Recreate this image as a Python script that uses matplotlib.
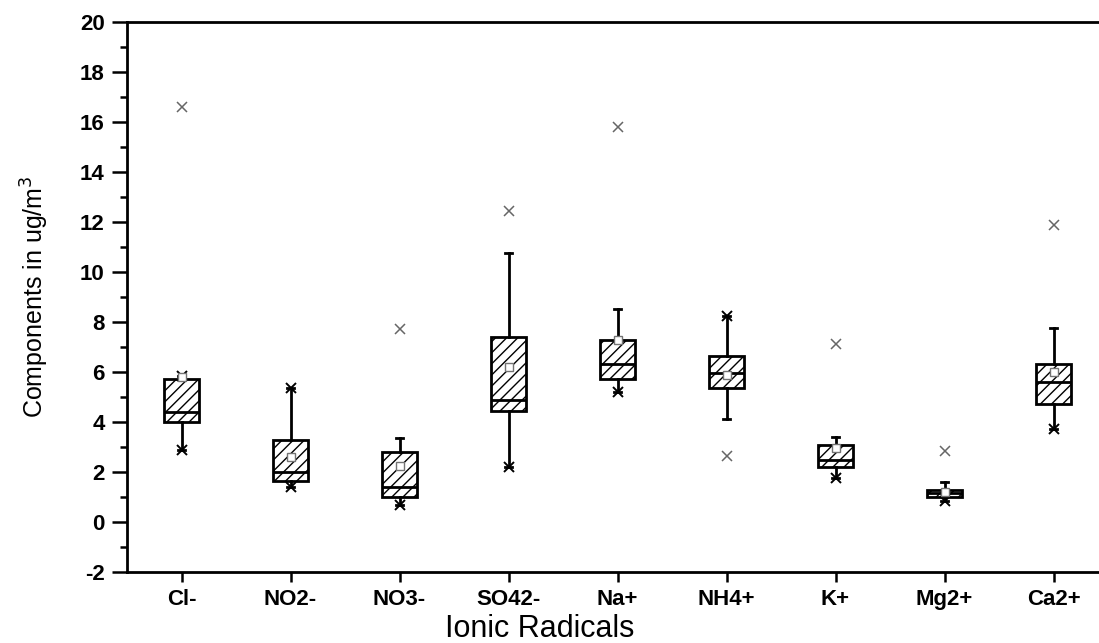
import matplotlib.pyplot as plt

plt.rcParams['font.family'] = ['Liberation Sans', 'DejaVu Sans']
plt.rcParams['hatch.linewidth'] = 1.0
plt.rcParams['axes.unicode_minus'] = False

# values
cats = ['Cl-', 'NO2-', 'NO3-', 'SO42-', 'Na+', 'NH4+', 'K+', 'Mg2+', 'Ca2+']
q1 = [4.00, 1.64, 1.00, 4.44, 5.72, 5.35, 2.21, 1.00, 4.72]
med = [4.41, 1.99, 1.39, 4.88, 6.31, 5.95, 2.48, 1.15, 5.59]
q3 = [5.72, 3.28, 2.81, 7.39, 7.28, 6.64, 3.08, 1.28, 6.31]
whislo = [2.88, 1.41, 0.70, 2.19, 5.21, 4.12, 1.75, 0.85, 3.72]
whishi = [5.84, 5.35, 3.35, 10.77, 8.52, 8.24, 3.39, 1.61, 7.77]
means = [5.80, 2.59, 2.25, 6.19, 7.30, 5.90, 2.95, 1.20, 6.01]
# x marks at whisker ends and separate outliers
end_marks = [[5.84, 2.88], [5.35, 1.41], [0.70], [2.19], [5.21],
             [8.24], [1.75], [0.85], [3.72]]
outliers = [[16.6], [], [7.71], [12.45], [15.81], [2.65], [7.11], [2.84], [11.88]]

pos = list(range(1, len(cats) + 1))

stats = []
for i, c in enumerate(cats):
    stats.append(dict(label=c, q1=q1[i], med=med[i], q3=q3[i],
                      whislo=whislo[i], whishi=whishi[i], mean=means[i], fliers=[]))

fig = plt.figure(figsize=(10.99, 6.43), dpi=100)
ax = fig.add_axes([127 / 1099, 71 / 643, 981 / 1099, 550 / 643])

lw = 2.0
ax.bxp(stats, positions=pos, widths=0.33, patch_artist=True, showmeans=True,
       showfliers=False, capwidths=0.07,
       boxprops=dict(facecolor='white', edgecolor='black', hatch='///', linewidth=lw),
       medianprops=dict(color='black', linewidth=lw),
       whiskerprops=dict(color='black', linewidth=lw),
       capprops=dict(color='black', linewidth=lw),
       meanprops=dict(marker='s', markersize=6, markerfacecolor='white',
                      markeredgecolor='0.45', markeredgewidth=1.0))

for i, p in enumerate(pos):
    for v in end_marks[i]:
        ax.plot(p, v, 'x', color='black', ms=7, mew=1.4)
    for v in outliers[i]:
        ax.plot(p, v, 'x', color='0.4', ms=7, mew=1.1)

ax.set_xlim(0.5, 9.5)
ax.set_ylim(-2, 20)
ax.set_yticks(range(-2, 21, 2))
ax.set_yticks(range(-1, 20, 2), minor=True)
ax.set_xticks(pos)
ax.set_xticklabels(cats)

for s in ['left', 'bottom', 'top', 'right']:
    ax.spines[s].set_linewidth(2.0)

ax.tick_params(axis='both', which='major', direction='out', width=1.8, labelsize=16)
ax.tick_params(axis='y', which='major', length=11, pad=5)
ax.tick_params(axis='x', which='major', length=7, pad=5)
ax.tick_params(axis='y', which='minor', direction='out', length=5, width=1.8)
for lab in ax.get_xticklabels() + ax.get_yticklabels():
    lab.set_fontweight('bold')

ax.set_ylabel('Components in ug/m$^3$', fontsize=18)
ax.yaxis.set_label_coords(-0.077, 0.5)
ax.set_xlabel('Ionic Radicals', fontsize=22)
ax.xaxis.set_label_coords(0.421, -0.077)

fig.savefig('out.png', dpi=100)
